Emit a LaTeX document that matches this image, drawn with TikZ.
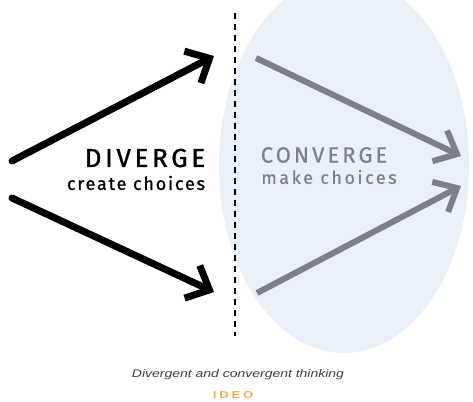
\documentclass[tikz,border=0pt]{standalone}
\usepackage{fontspec}
\setmainfont{Liberation Sans}
\newfontfamily\handfont{Fira Sans}
\usetikzlibrary{arrows.meta}
\definecolor{ellblue}{HTML}{EAF0F7}
\definecolor{convgrey}{HTML}{7D8084}
\definecolor{ideoorange}{HTML}{F4AC5A}
\tikzset{
  divarrow/.style={line width=7pt, black, line cap=round, -{Straight Barb[length=19pt,width=36pt,line width=7pt]}},
  convarrow/.style={line width=6pt, convgrey, -{Straight Barb[length=19pt,width=34pt,line width=6pt]}},
  textlabel/.style={inner sep=0pt},
}
\begin{document}
\begin{tikzpicture}[x=1pt,y=-1pt]
\useasboundingbox (0,0) rectangle (473,401);
\fill[white] (0,0) rectangle (473,401);
% shaded region
\fill[ellblue] (344,165) ellipse [x radius=125pt, y radius=188pt];
% dashed divider
\coordinate (dtop) at (235,13);
\coordinate (dbot) at (235,336);
\draw[line width=2pt, dash pattern=on 6pt off 5pt] (dtop) -- (dbot);
% divergent arrows
\coordinate (dstart1) at (12,161);
\coordinate (dend1) at (214,56);
\coordinate (dstart2) at (12,198);
\coordinate (dend2) at (214,292);
\draw[divarrow] (dstart1) -- (dend1);
\draw[divarrow] (dstart2) -- (dend2);
% convergent arrows
\coordinate (cstart1) at (256,58);
\coordinate (cend1) at (461,156);
\coordinate (cstart2) at (257,293);
\coordinate (cend2) at (461,186);
\draw[convarrow] (cstart1) -- (cend1);
\draw[convarrow] (cstart2) -- (cend2);
% labels
\node[textlabel, black, font=\handfont\fontsize{26}{28}\selectfont\addfontfeatures{LetterSpace=14,FakeBold=1.2}] (div) at (145,158) {DIVERGE};
\node[textlabel, black, font=\handfont\fontsize{18}{20}\selectfont\addfontfeatures{LetterSpace=10,FakeBold=1}] (divsub) at (136,183) {create choices};
\node[textlabel, convgrey, font=\handfont\fontsize{22}{24}\selectfont\addfontfeatures{LetterSpace=14,FakeBold=0.6}] (conv) at (324,155) {CONVERGE};
\node[textlabel, convgrey, font=\handfont\fontsize{18}{20}\selectfont\addfontfeatures{LetterSpace=14,FakeBold=0.6}] (convsub) at (329,177) {make choices};
% caption
\node[textlabel, font=\itshape\fontsize{11}{13}\selectfont, text=black!75, xscale=1.27] (cap) at (238,375) {Divergent and convergent thinking};
\node[textlabel, font=\bfseries\fontsize{10}{11}\selectfont\addfontfeatures{LetterSpace=22}, text=ideoorange, xscale=1.3] (ideo) at (233,395) {IDEO};
\end{tikzpicture}
\end{document}
